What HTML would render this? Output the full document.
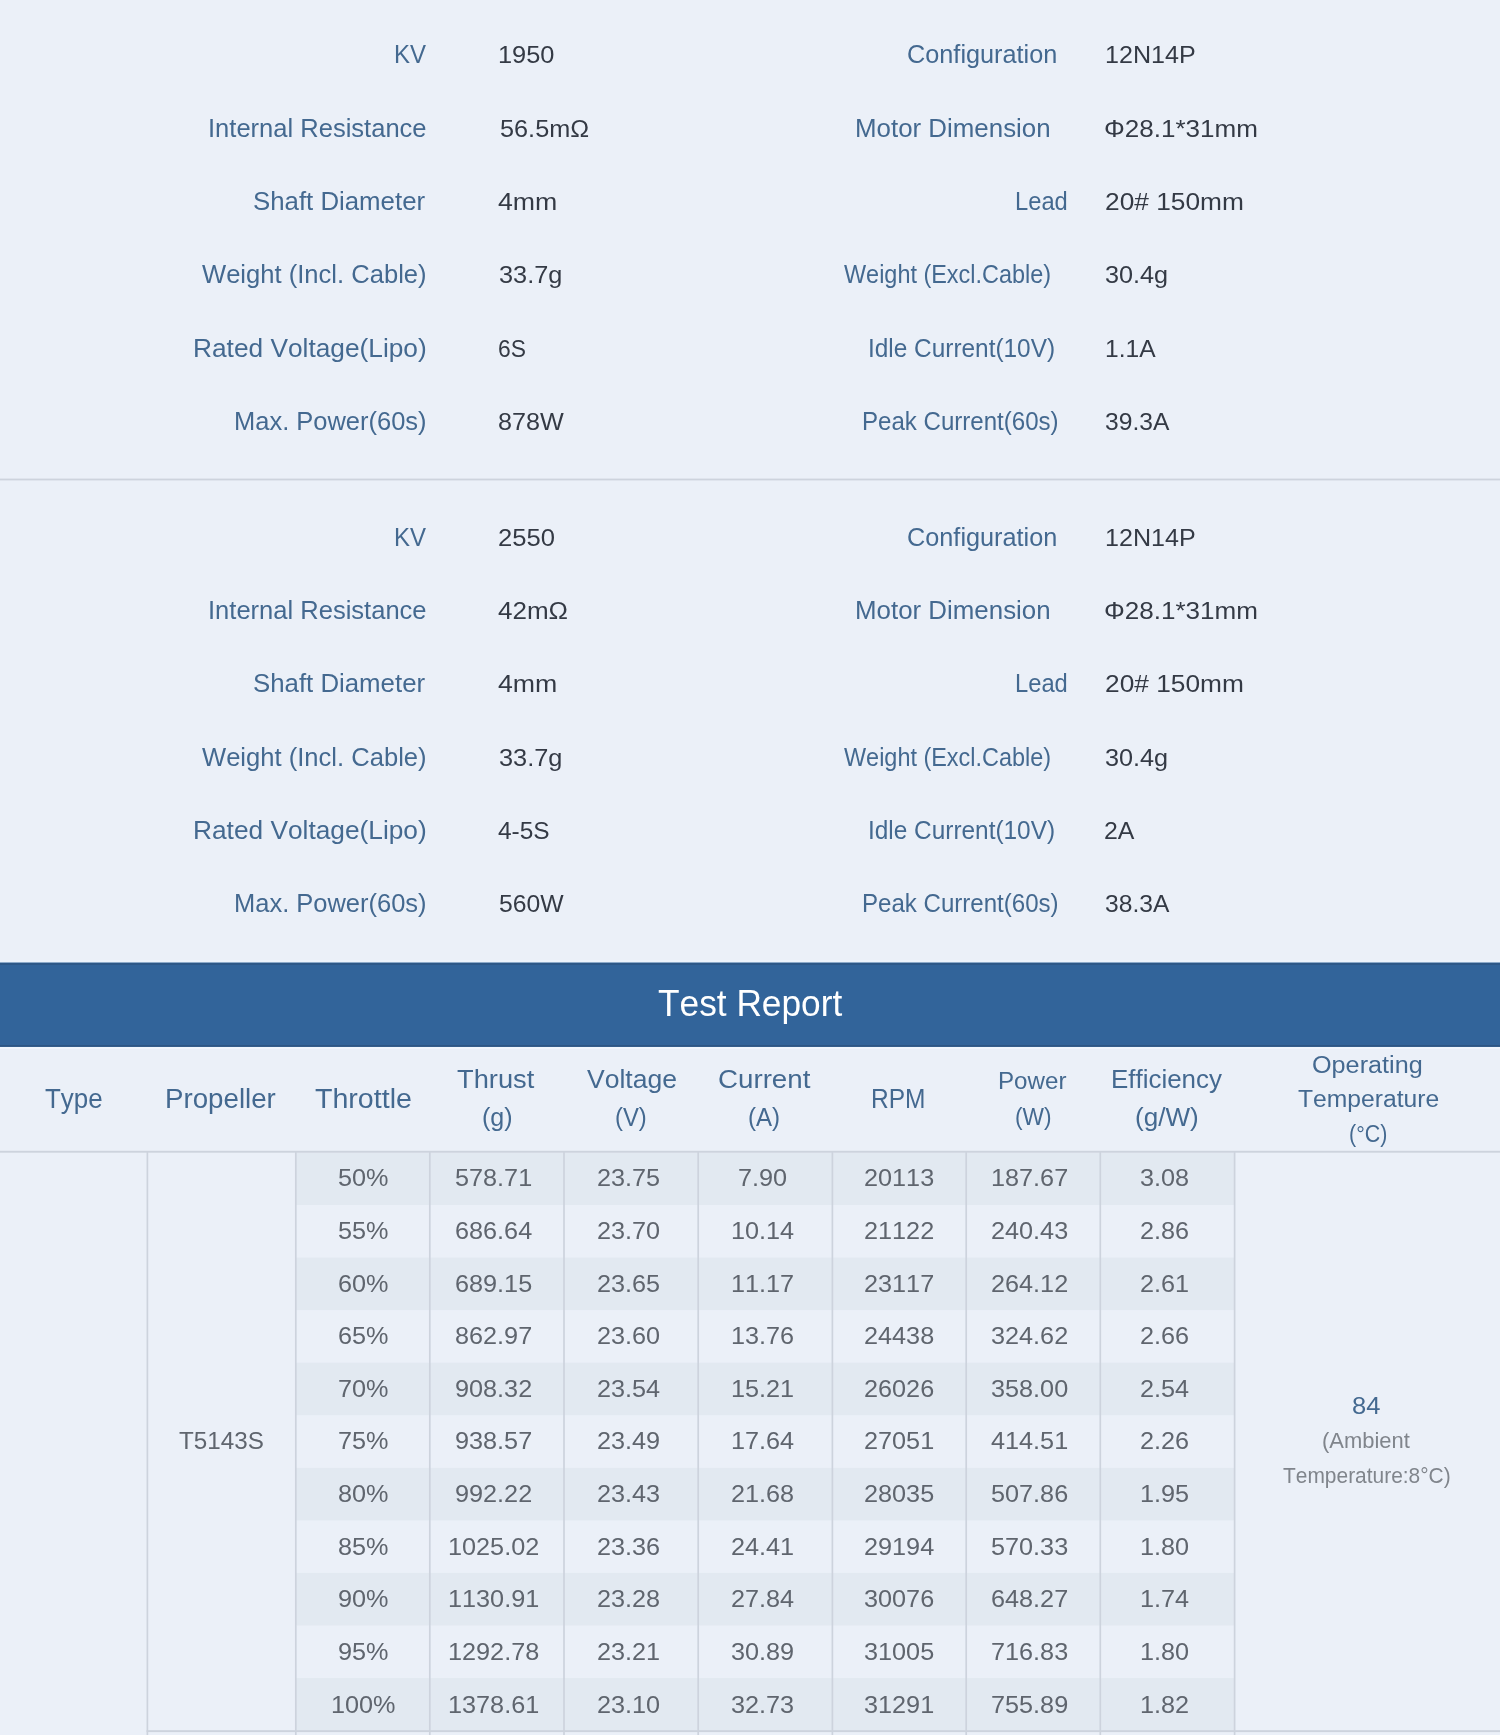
<!DOCTYPE html>
<html><head><meta charset="utf-8"><title>Test Report</title>
<style>
html,body{margin:0;padding:0;}
body{width:1500px;height:1735px;overflow:hidden;background:#ebf0f8;font-family:"Liberation Sans",sans-serif;position:relative;}
#p{position:relative;width:1500px;height:1735px;overflow:hidden;will-change:transform;}
#p div{position:absolute;}
#p span{position:absolute;white-space:nowrap;transform-origin:0 50%;font-kerning:none;}
</style></head><body><div id="p">
<svg width="1500" height="1735" viewBox="0 0 1500 1735" style="position:absolute;left:0;top:0">
<rect x="0" y="478.6" width="1500" height="1.8" fill="#cdd3dd"/>
<rect x="0" y="960" width="1500" height="2.5" fill="#eef4fc"/>
<rect x="0" y="1046.8" width="1500" height="2.2" fill="#f0f6fd"/>
<rect x="0" y="962.5" width="1500" height="84.3" fill="#32649a"/>
<rect x="0" y="963.2" width="1500" height="1.6" fill="#2e5785"/>
<rect x="0" y="1045" width="1500" height="1.8" fill="#2d5684"/>
<rect x="296" y="1152.45" width="938.5" height="52.56" fill="#e2e9f1"/>
<rect x="296" y="1257.57" width="938.5" height="52.56" fill="#e2e9f1"/>
<rect x="296" y="1362.69" width="938.5" height="52.56" fill="#e2e9f1"/>
<rect x="296" y="1467.81" width="938.5" height="52.56" fill="#e2e9f1"/>
<rect x="296" y="1572.93" width="938.5" height="52.56" fill="#e2e9f1"/>
<rect x="296" y="1678.05" width="938.5" height="52.56" fill="#e2e9f1"/>
<rect x="0" y="1150.8" width="1500" height="1.9" fill="#cdd3dd"/>
<rect x="146.55" y="1152" width="1.7" height="583" fill="#cdd3dd"/>
<rect x="294.95" y="1152" width="1.7" height="583" fill="#cdd3dd"/>
<rect x="428.95" y="1152" width="1.7" height="583" fill="#cdd3dd"/>
<rect x="563.15" y="1152" width="1.7" height="583" fill="#cdd3dd"/>
<rect x="697.35" y="1152" width="1.7" height="583" fill="#cdd3dd"/>
<rect x="831.55" y="1152" width="1.7" height="583" fill="#cdd3dd"/>
<rect x="965.35" y="1152" width="1.7" height="583" fill="#cdd3dd"/>
<rect x="1099.45" y="1152" width="1.7" height="583" fill="#cdd3dd"/>
<rect x="1233.75" y="1152" width="1.7" height="583" fill="#cdd3dd"/>
<rect x="146.5" y="1730.2" width="1353.5" height="1.9" fill="#cdd3dd"/>
</svg>
<span style="left:393.68px;top:39px;font-size:25px;line-height:30.0px;color:#446990;transform:scaleX(0.9598)">KV</span>
<span style="left:498.26px;top:40px;font-size:24.5px;line-height:29.4px;color:#343a45;transform:scaleX(1.0364)">1950</span>
<span style="left:906.59px;top:39px;font-size:25px;line-height:30.0px;color:#446990;transform:scaleX(1.0109)">Configuration</span>
<span style="left:1104.98px;top:40px;font-size:24.5px;line-height:29.4px;color:#343a45;transform:scaleX(1.0241)">12N14P</span>
<span style="left:207.56px;top:113px;font-size:25px;line-height:30.0px;color:#446990;transform:scaleX(1.0213)">Internal Resistance</span>
<span style="left:499.60px;top:114px;font-size:24.5px;line-height:29.4px;color:#343a45;transform:scaleX(1.0314)">56.5mΩ</span>
<span style="left:854.93px;top:113px;font-size:25px;line-height:30.0px;color:#446990;transform:scaleX(1.0352)">Motor Dimension</span>
<span style="left:1104.24px;top:114px;font-size:24.5px;line-height:29.4px;color:#343a45;transform:scaleX(1.0630)">Φ28.1*31mm</span>
<span style="left:253.47px;top:186px;font-size:25px;line-height:30.0px;color:#446990;transform:scaleX(1.0320)">Shaft Diameter</span>
<span style="left:497.90px;top:187px;font-size:24.5px;line-height:29.4px;color:#343a45;transform:scaleX(1.0899)">4mm</span>
<span style="left:1015.10px;top:186px;font-size:25px;line-height:30.0px;color:#446990;transform:scaleX(0.9486)">Lead</span>
<span style="left:1104.63px;top:187px;font-size:24.5px;line-height:29.4px;color:#343a45;transform:scaleX(1.0735)">20# 150mm</span>
<span style="left:202.00px;top:259px;font-size:25px;line-height:30.0px;color:#446990;transform:scaleX(1.0229)">Weight (Incl. Cable)</span>
<span style="left:499.00px;top:260px;font-size:24.5px;line-height:29.4px;color:#343a45;transform:scaleX(1.0332)">33.7g</span>
<span style="left:843.60px;top:259px;font-size:25px;line-height:30.0px;color:#446990;transform:scaleX(0.9373)">Weight (Excl.Cable)</span>
<span style="left:1105.40px;top:260px;font-size:24.5px;line-height:29.4px;color:#343a45;transform:scaleX(1.0299)">30.4g</span>
<span style="left:192.90px;top:333px;font-size:25px;line-height:30.0px;color:#446990;transform:scaleX(1.0510)">Rated Voltage(Lipo)</span>
<span style="left:497.67px;top:334px;font-size:24.5px;line-height:29.4px;color:#343a45;transform:scaleX(0.9327)">6S</span>
<span style="left:867.65px;top:333px;font-size:25px;line-height:30.0px;color:#446990;transform:scaleX(0.9755)">Idle Current(10V)</span>
<span style="left:1104.60px;top:334px;font-size:24.5px;line-height:29.4px;color:#343a45;transform:scaleX(1.0028)">1.1A</span>
<span style="left:233.96px;top:406px;font-size:25px;line-height:30.0px;color:#446990;transform:scaleX(1.0193)">Max. Power(60s)</span>
<span style="left:497.77px;top:407px;font-size:24.5px;line-height:29.4px;color:#343a45;transform:scaleX(1.0270)">878W</span>
<span style="left:861.67px;top:406px;font-size:25px;line-height:30.0px;color:#446990;transform:scaleX(0.9626)">Peak Current(60s)</span>
<span style="left:1105.40px;top:407px;font-size:24.5px;line-height:29.4px;color:#343a45;transform:scaleX(1.0049)">39.3A</span>
<span style="left:393.68px;top:522px;font-size:25px;line-height:30.0px;color:#446990;transform:scaleX(0.9598)">KV</span>
<span style="left:497.75px;top:523px;font-size:24.5px;line-height:29.4px;color:#343a45;transform:scaleX(1.0458)">2550</span>
<span style="left:906.59px;top:522px;font-size:25px;line-height:30.0px;color:#446990;transform:scaleX(1.0109)">Configuration</span>
<span style="left:1104.98px;top:523px;font-size:24.5px;line-height:29.4px;color:#343a45;transform:scaleX(1.0241)">12N14P</span>
<span style="left:207.56px;top:595px;font-size:25px;line-height:30.0px;color:#446990;transform:scaleX(1.0213)">Internal Resistance</span>
<span style="left:497.90px;top:596px;font-size:24.5px;line-height:29.4px;color:#343a45;transform:scaleX(1.0615)">42mΩ</span>
<span style="left:854.93px;top:595px;font-size:25px;line-height:30.0px;color:#446990;transform:scaleX(1.0352)">Motor Dimension</span>
<span style="left:1104.24px;top:596px;font-size:24.5px;line-height:29.4px;color:#343a45;transform:scaleX(1.0630)">Φ28.1*31mm</span>
<span style="left:253.47px;top:668px;font-size:25px;line-height:30.0px;color:#446990;transform:scaleX(1.0320)">Shaft Diameter</span>
<span style="left:497.90px;top:669px;font-size:24.5px;line-height:29.4px;color:#343a45;transform:scaleX(1.0899)">4mm</span>
<span style="left:1015.10px;top:668px;font-size:25px;line-height:30.0px;color:#446990;transform:scaleX(0.9486)">Lead</span>
<span style="left:1104.63px;top:669px;font-size:24.5px;line-height:29.4px;color:#343a45;transform:scaleX(1.0735)">20# 150mm</span>
<span style="left:202.00px;top:742px;font-size:25px;line-height:30.0px;color:#446990;transform:scaleX(1.0229)">Weight (Incl. Cable)</span>
<span style="left:499.00px;top:743px;font-size:24.5px;line-height:29.4px;color:#343a45;transform:scaleX(1.0349)">33.7g</span>
<span style="left:843.60px;top:742px;font-size:25px;line-height:30.0px;color:#446990;transform:scaleX(0.9373)">Weight (Excl.Cable)</span>
<span style="left:1105.40px;top:743px;font-size:24.5px;line-height:29.4px;color:#343a45;transform:scaleX(1.0299)">30.4g</span>
<span style="left:192.90px;top:815px;font-size:25px;line-height:30.0px;color:#446990;transform:scaleX(1.0510)">Rated Voltage(Lipo)</span>
<span style="left:497.90px;top:816px;font-size:24.5px;line-height:29.4px;color:#343a45;transform:scaleX(0.9979)">4-5S</span>
<span style="left:867.65px;top:815px;font-size:25px;line-height:30.0px;color:#446990;transform:scaleX(0.9755)">Idle Current(10V)</span>
<span style="left:1104.08px;top:816px;font-size:24.5px;line-height:29.4px;color:#343a45;transform:scaleX(1.0160)">2A</span>
<span style="left:233.96px;top:888px;font-size:25px;line-height:30.0px;color:#446990;transform:scaleX(1.0193)">Max. Power(60s)</span>
<span style="left:499.30px;top:889px;font-size:24.5px;line-height:29.4px;color:#343a45;transform:scaleX(1.0096)">560W</span>
<span style="left:861.67px;top:888px;font-size:25px;line-height:30.0px;color:#446990;transform:scaleX(0.9626)">Peak Current(60s)</span>
<span style="left:1105.40px;top:889px;font-size:24.5px;line-height:29.4px;color:#343a45;transform:scaleX(1.0049)">38.3A</span>
<span style="left:658.00px;top:981px;font-size:37.5px;line-height:45.0px;color:#ffffff;transform:scaleX(0.9405)">Test Report</span>
<span style="left:44.70px;top:1083px;font-size:27px;line-height:32.4px;color:#446990;transform:scaleX(0.9609)">Type</span>
<span style="left:165.25px;top:1083px;font-size:27px;line-height:32.4px;color:#446990;transform:scaleX(1.0258)">Propeller</span>
<span style="left:315.40px;top:1083px;font-size:27px;line-height:32.4px;color:#446990;transform:scaleX(1.0584)">Throttle</span>
<span style="left:457.30px;top:1064px;font-size:26.5px;line-height:31.8px;color:#446990;transform:scaleX(1.0285)">Thrust</span>
<span style="left:481.55px;top:1102px;font-size:26.5px;line-height:31.8px;color:#446990;transform:scaleX(0.9456)">(g)</span>
<span style="left:586.50px;top:1064px;font-size:26.5px;line-height:31.8px;color:#446990;transform:scaleX(1.0018)">Voltage</span>
<span style="left:614.50px;top:1102px;font-size:26.5px;line-height:31.8px;color:#446990;transform:scaleX(0.8985)">(V)</span>
<span style="left:718.25px;top:1064px;font-size:26.5px;line-height:31.8px;color:#446990;transform:scaleX(1.0454)">Current</span>
<span style="left:748.39px;top:1102px;font-size:26.5px;line-height:31.8px;color:#446990;transform:scaleX(0.9075)">(A)</span>
<span style="left:871.48px;top:1083px;font-size:27px;line-height:32.4px;color:#446990;transform:scaleX(0.9078)">RPM</span>
<span style="left:997.67px;top:1067px;font-size:23.5px;line-height:28.2px;color:#446990;transform:scaleX(1.0276)">Power</span>
<span style="left:1014.93px;top:1103px;font-size:23.5px;line-height:28.2px;color:#446990;transform:scaleX(0.9665)">(W)</span>
<span style="left:1110.64px;top:1064px;font-size:26.5px;line-height:31.8px;color:#446990;transform:scaleX(0.9781)">Efficiency</span>
<span style="left:1135.02px;top:1102px;font-size:26.5px;line-height:31.8px;color:#446990;transform:scaleX(0.9835)">(g/W)</span>
<span style="left:1312.08px;top:1050px;font-size:24.7px;line-height:29.64px;color:#446990;transform:scaleX(1.0207)">Operating</span>
<span style="left:1298.00px;top:1084px;font-size:24.7px;line-height:29.64px;color:#446990;transform:scaleX(0.9993)">Temperature</span>
<span style="left:1348.73px;top:1119px;font-size:24.7px;line-height:29.64px;color:#446990;transform:scaleX(0.8683)">(°C)</span>
<span style="left:179.00px;top:1426px;font-size:24.5px;line-height:29.4px;color:#5f656e;transform:scaleX(0.9887)">T5143S</span>
<span style="left:1351.86px;top:1391px;font-size:24.5px;line-height:29.4px;color:#446990;transform:scaleX(1.0419)">84</span>
<span style="left:1321.72px;top:1428px;font-size:22.3px;line-height:26.76px;color:#80858c;transform:scaleX(0.9840)">(Ambient</span>
<span style="left:1282.70px;top:1463px;font-size:22.3px;line-height:26.76px;color:#80858c;transform:scaleX(0.9385)">Temperature:8°C)</span>
<span style="left:338.25px;top:1163px;font-size:24.5px;line-height:29.4px;color:#5f656e;transform:scaleX(1.0300)">50%</span>
<span style="left:455.01px;top:1163px;font-size:24.5px;line-height:29.4px;color:#5f656e;transform:scaleX(1.0300)">578.71</span>
<span style="left:596.83px;top:1163px;font-size:24.5px;line-height:29.4px;color:#5f656e;transform:scaleX(1.0300)">23.75</span>
<span style="left:738.14px;top:1163px;font-size:24.5px;line-height:29.4px;color:#5f656e;transform:scaleX(1.0300)">7.90</span>
<span style="left:863.81px;top:1163px;font-size:24.5px;line-height:29.4px;color:#5f656e;transform:scaleX(1.0300)">20113</span>
<span style="left:991.21px;top:1163px;font-size:24.5px;line-height:29.4px;color:#5f656e;transform:scaleX(1.0300)">187.67</span>
<span style="left:1139.69px;top:1163px;font-size:24.5px;line-height:29.4px;color:#5f656e;transform:scaleX(1.0300)">3.08</span>
<span style="left:338.25px;top:1216px;font-size:24.5px;line-height:29.4px;color:#5f656e;transform:scaleX(1.0300)">55%</span>
<span style="left:455.01px;top:1216px;font-size:24.5px;line-height:29.4px;color:#5f656e;transform:scaleX(1.0300)">686.64</span>
<span style="left:596.83px;top:1216px;font-size:24.5px;line-height:29.4px;color:#5f656e;transform:scaleX(1.0300)">23.70</span>
<span style="left:731.13px;top:1216px;font-size:24.5px;line-height:29.4px;color:#5f656e;transform:scaleX(1.0300)">10.14</span>
<span style="left:863.81px;top:1216px;font-size:24.5px;line-height:29.4px;color:#5f656e;transform:scaleX(1.0300)">21122</span>
<span style="left:991.21px;top:1216px;font-size:24.5px;line-height:29.4px;color:#5f656e;transform:scaleX(1.0300)">240.43</span>
<span style="left:1139.69px;top:1216px;font-size:24.5px;line-height:29.4px;color:#5f656e;transform:scaleX(1.0300)">2.86</span>
<span style="left:338.25px;top:1269px;font-size:24.5px;line-height:29.4px;color:#5f656e;transform:scaleX(1.0300)">60%</span>
<span style="left:455.01px;top:1269px;font-size:24.5px;line-height:29.4px;color:#5f656e;transform:scaleX(1.0300)">689.15</span>
<span style="left:596.83px;top:1269px;font-size:24.5px;line-height:29.4px;color:#5f656e;transform:scaleX(1.0300)">23.65</span>
<span style="left:731.13px;top:1269px;font-size:24.5px;line-height:29.4px;color:#5f656e;transform:scaleX(1.0300)">11.17</span>
<span style="left:863.81px;top:1269px;font-size:24.5px;line-height:29.4px;color:#5f656e;transform:scaleX(1.0300)">23117</span>
<span style="left:991.21px;top:1269px;font-size:24.5px;line-height:29.4px;color:#5f656e;transform:scaleX(1.0300)">264.12</span>
<span style="left:1139.69px;top:1269px;font-size:24.5px;line-height:29.4px;color:#5f656e;transform:scaleX(1.0300)">2.61</span>
<span style="left:338.25px;top:1321px;font-size:24.5px;line-height:29.4px;color:#5f656e;transform:scaleX(1.0300)">65%</span>
<span style="left:455.01px;top:1321px;font-size:24.5px;line-height:29.4px;color:#5f656e;transform:scaleX(1.0300)">862.97</span>
<span style="left:596.83px;top:1321px;font-size:24.5px;line-height:29.4px;color:#5f656e;transform:scaleX(1.0300)">23.60</span>
<span style="left:731.13px;top:1321px;font-size:24.5px;line-height:29.4px;color:#5f656e;transform:scaleX(1.0300)">13.76</span>
<span style="left:863.81px;top:1321px;font-size:24.5px;line-height:29.4px;color:#5f656e;transform:scaleX(1.0300)">24438</span>
<span style="left:991.21px;top:1321px;font-size:24.5px;line-height:29.4px;color:#5f656e;transform:scaleX(1.0300)">324.62</span>
<span style="left:1139.69px;top:1321px;font-size:24.5px;line-height:29.4px;color:#5f656e;transform:scaleX(1.0300)">2.66</span>
<span style="left:338.25px;top:1374px;font-size:24.5px;line-height:29.4px;color:#5f656e;transform:scaleX(1.0300)">70%</span>
<span style="left:455.01px;top:1374px;font-size:24.5px;line-height:29.4px;color:#5f656e;transform:scaleX(1.0300)">908.32</span>
<span style="left:596.83px;top:1374px;font-size:24.5px;line-height:29.4px;color:#5f656e;transform:scaleX(1.0300)">23.54</span>
<span style="left:731.13px;top:1374px;font-size:24.5px;line-height:29.4px;color:#5f656e;transform:scaleX(1.0300)">15.21</span>
<span style="left:863.81px;top:1374px;font-size:24.5px;line-height:29.4px;color:#5f656e;transform:scaleX(1.0300)">26026</span>
<span style="left:991.21px;top:1374px;font-size:24.5px;line-height:29.4px;color:#5f656e;transform:scaleX(1.0300)">358.00</span>
<span style="left:1139.69px;top:1374px;font-size:24.5px;line-height:29.4px;color:#5f656e;transform:scaleX(1.0300)">2.54</span>
<span style="left:338.25px;top:1426px;font-size:24.5px;line-height:29.4px;color:#5f656e;transform:scaleX(1.0300)">75%</span>
<span style="left:455.01px;top:1426px;font-size:24.5px;line-height:29.4px;color:#5f656e;transform:scaleX(1.0300)">938.57</span>
<span style="left:596.83px;top:1426px;font-size:24.5px;line-height:29.4px;color:#5f656e;transform:scaleX(1.0300)">23.49</span>
<span style="left:731.13px;top:1426px;font-size:24.5px;line-height:29.4px;color:#5f656e;transform:scaleX(1.0300)">17.64</span>
<span style="left:863.81px;top:1426px;font-size:24.5px;line-height:29.4px;color:#5f656e;transform:scaleX(1.0300)">27051</span>
<span style="left:991.21px;top:1426px;font-size:24.5px;line-height:29.4px;color:#5f656e;transform:scaleX(1.0300)">414.51</span>
<span style="left:1139.69px;top:1426px;font-size:24.5px;line-height:29.4px;color:#5f656e;transform:scaleX(1.0300)">2.26</span>
<span style="left:338.25px;top:1479px;font-size:24.5px;line-height:29.4px;color:#5f656e;transform:scaleX(1.0300)">80%</span>
<span style="left:455.01px;top:1479px;font-size:24.5px;line-height:29.4px;color:#5f656e;transform:scaleX(1.0300)">992.22</span>
<span style="left:596.83px;top:1479px;font-size:24.5px;line-height:29.4px;color:#5f656e;transform:scaleX(1.0300)">23.43</span>
<span style="left:731.13px;top:1479px;font-size:24.5px;line-height:29.4px;color:#5f656e;transform:scaleX(1.0300)">21.68</span>
<span style="left:863.81px;top:1479px;font-size:24.5px;line-height:29.4px;color:#5f656e;transform:scaleX(1.0300)">28035</span>
<span style="left:991.21px;top:1479px;font-size:24.5px;line-height:29.4px;color:#5f656e;transform:scaleX(1.0300)">507.86</span>
<span style="left:1139.69px;top:1479px;font-size:24.5px;line-height:29.4px;color:#5f656e;transform:scaleX(1.0300)">1.95</span>
<span style="left:338.25px;top:1532px;font-size:24.5px;line-height:29.4px;color:#5f656e;transform:scaleX(1.0300)">85%</span>
<span style="left:447.99px;top:1532px;font-size:24.5px;line-height:29.4px;color:#5f656e;transform:scaleX(1.0300)">1025.02</span>
<span style="left:596.83px;top:1532px;font-size:24.5px;line-height:29.4px;color:#5f656e;transform:scaleX(1.0300)">23.36</span>
<span style="left:731.13px;top:1532px;font-size:24.5px;line-height:29.4px;color:#5f656e;transform:scaleX(1.0300)">24.41</span>
<span style="left:863.81px;top:1532px;font-size:24.5px;line-height:29.4px;color:#5f656e;transform:scaleX(1.0300)">29194</span>
<span style="left:991.21px;top:1532px;font-size:24.5px;line-height:29.4px;color:#5f656e;transform:scaleX(1.0300)">570.33</span>
<span style="left:1139.69px;top:1532px;font-size:24.5px;line-height:29.4px;color:#5f656e;transform:scaleX(1.0300)">1.80</span>
<span style="left:338.25px;top:1584px;font-size:24.5px;line-height:29.4px;color:#5f656e;transform:scaleX(1.0300)">90%</span>
<span style="left:447.99px;top:1584px;font-size:24.5px;line-height:29.4px;color:#5f656e;transform:scaleX(1.0300)">1130.91</span>
<span style="left:596.83px;top:1584px;font-size:24.5px;line-height:29.4px;color:#5f656e;transform:scaleX(1.0300)">23.28</span>
<span style="left:731.13px;top:1584px;font-size:24.5px;line-height:29.4px;color:#5f656e;transform:scaleX(1.0300)">27.84</span>
<span style="left:863.81px;top:1584px;font-size:24.5px;line-height:29.4px;color:#5f656e;transform:scaleX(1.0300)">30076</span>
<span style="left:991.21px;top:1584px;font-size:24.5px;line-height:29.4px;color:#5f656e;transform:scaleX(1.0300)">648.27</span>
<span style="left:1139.69px;top:1584px;font-size:24.5px;line-height:29.4px;color:#5f656e;transform:scaleX(1.0300)">1.74</span>
<span style="left:338.25px;top:1637px;font-size:24.5px;line-height:29.4px;color:#5f656e;transform:scaleX(1.0300)">95%</span>
<span style="left:447.99px;top:1637px;font-size:24.5px;line-height:29.4px;color:#5f656e;transform:scaleX(1.0300)">1292.78</span>
<span style="left:596.83px;top:1637px;font-size:24.5px;line-height:29.4px;color:#5f656e;transform:scaleX(1.0300)">23.21</span>
<span style="left:731.13px;top:1637px;font-size:24.5px;line-height:29.4px;color:#5f656e;transform:scaleX(1.0300)">30.89</span>
<span style="left:863.81px;top:1637px;font-size:24.5px;line-height:29.4px;color:#5f656e;transform:scaleX(1.0300)">31005</span>
<span style="left:991.21px;top:1637px;font-size:24.5px;line-height:29.4px;color:#5f656e;transform:scaleX(1.0300)">716.83</span>
<span style="left:1139.69px;top:1637px;font-size:24.5px;line-height:29.4px;color:#5f656e;transform:scaleX(1.0300)">1.80</span>
<span style="left:331.23px;top:1690px;font-size:24.5px;line-height:29.4px;color:#5f656e;transform:scaleX(1.0300)">100%</span>
<span style="left:447.99px;top:1690px;font-size:24.5px;line-height:29.4px;color:#5f656e;transform:scaleX(1.0300)">1378.61</span>
<span style="left:596.83px;top:1690px;font-size:24.5px;line-height:29.4px;color:#5f656e;transform:scaleX(1.0300)">23.10</span>
<span style="left:731.13px;top:1690px;font-size:24.5px;line-height:29.4px;color:#5f656e;transform:scaleX(1.0300)">32.73</span>
<span style="left:863.81px;top:1690px;font-size:24.5px;line-height:29.4px;color:#5f656e;transform:scaleX(1.0300)">31291</span>
<span style="left:991.21px;top:1690px;font-size:24.5px;line-height:29.4px;color:#5f656e;transform:scaleX(1.0300)">755.89</span>
<span style="left:1139.69px;top:1690px;font-size:24.5px;line-height:29.4px;color:#5f656e;transform:scaleX(1.0300)">1.82</span>
</div></body></html>
